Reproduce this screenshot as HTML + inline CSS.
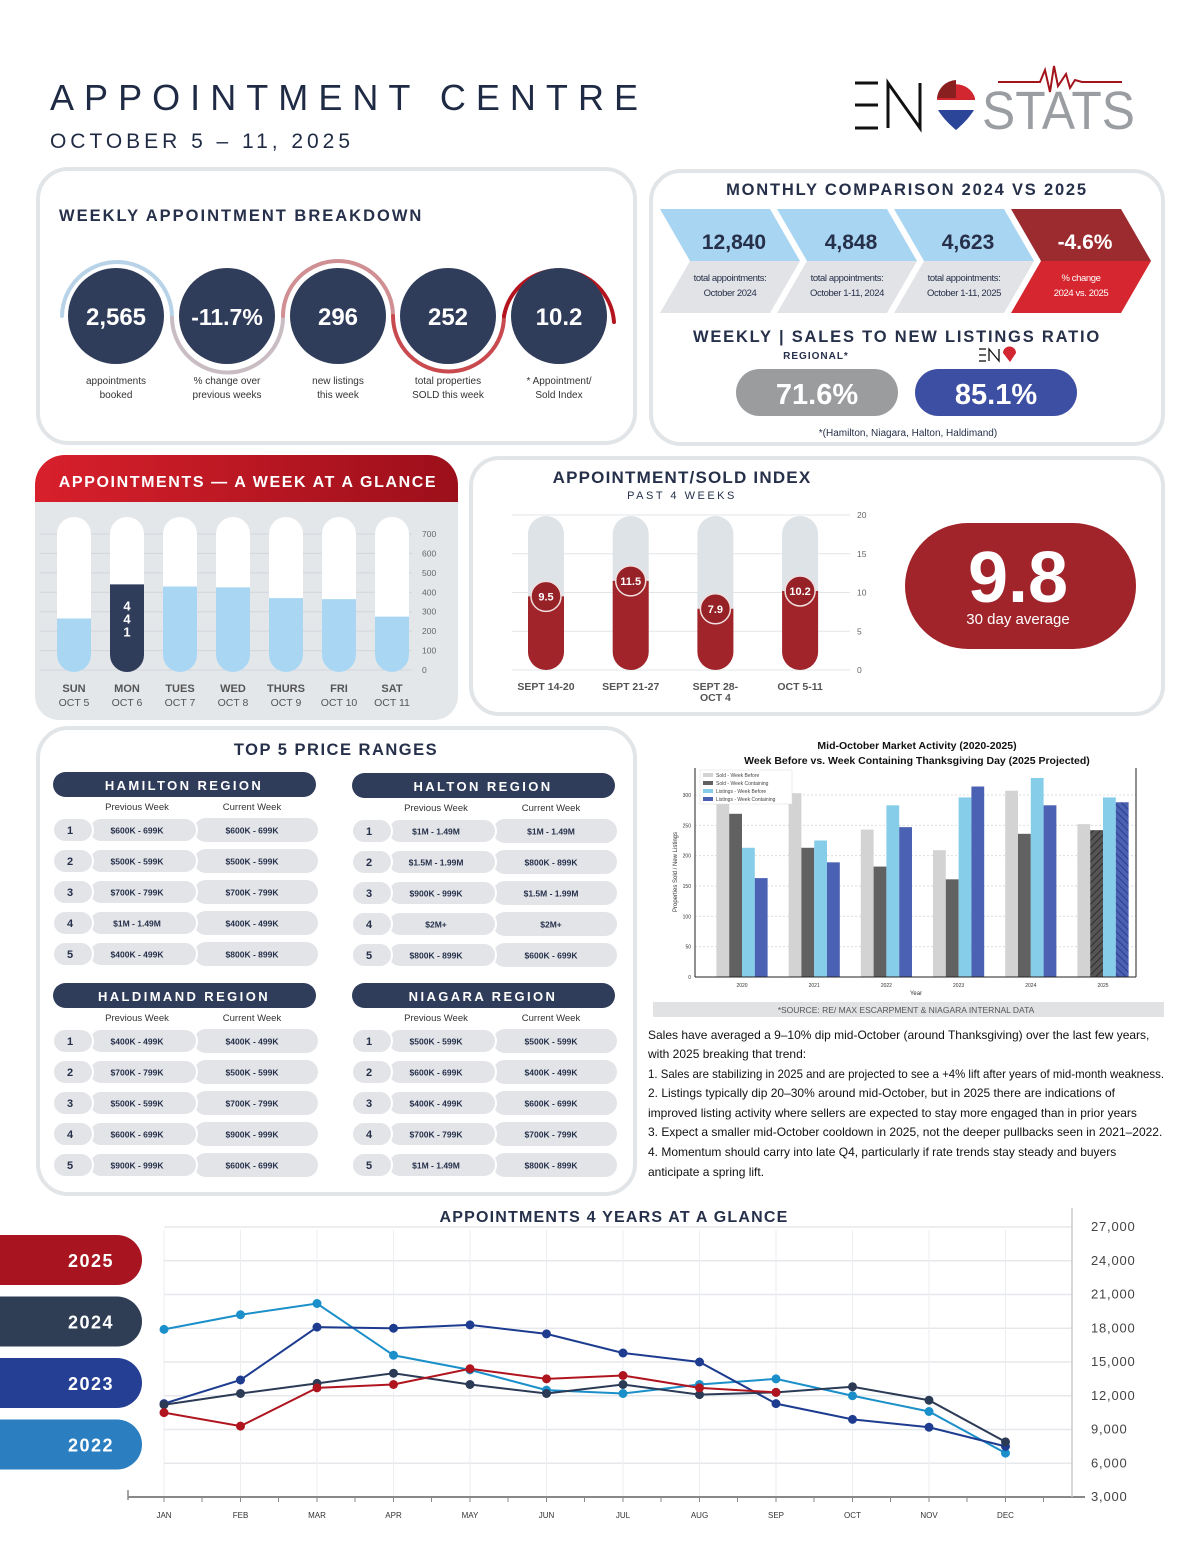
<!DOCTYPE html>
<html><head><meta charset="utf-8">
<style>
html,body{margin:0;padding:0;background:#fff;}
svg{display:block;font-family:"Liberation Sans",sans-serif;}
.navy{fill:#26304a}
</style></head>
<body>
<svg id="root" width="1200" height="1553" viewBox="0 0 1200 1553" xmlns="http://www.w3.org/2000/svg">
<defs>
<linearGradient id="redhead" x1="0" x2="1"><stop offset="0" stop-color="#d8202c"/><stop offset="1" stop-color="#9c0f1a"/></linearGradient>
<pattern id="hatchD" width="5" height="5" patternUnits="userSpaceOnUse" patternTransform="rotate(45)"><rect width="5" height="5" fill="#555"/><line x1="0" y1="0" x2="0" y2="5" stroke="#222" stroke-width="1.5"/></pattern>
<pattern id="hatchB" width="5" height="5" patternUnits="userSpaceOnUse" patternTransform="rotate(-45)"><rect width="5" height="5" fill="#4a61b4"/><line x1="0" y1="0" x2="0" y2="5" stroke="#23347a" stroke-width="1.5"/></pattern>
</defs>

<!-- Header -->
<g>
<text x="50" y="110" font-size="36" fill="#1f2a44" textLength="588" lengthAdjust="spacing">APPOINTMENT CENTRE</text>
<text x="50" y="148" font-size="21" fill="#1f2a44" textLength="300" lengthAdjust="spacing">OCTOBER 5 – 11, 2025</text>
</g>
<g>
<g stroke="#111" stroke-width="3" fill="none"><line x1="855" y1="83" x2="878" y2="83"/><line x1="855" y1="105" x2="878" y2="105"/><line x1="855" y1="128" x2="878" y2="128"/><polyline points="888,128 888,83 920,128 920,83"/></g>
<path d="M937 100 A20 20 0 0 1 975 100 Q970 115 956 130 Q942 115 937 100Z" fill="#fff"/>
<path d="M937 98 A20 20 0 0 1 975 98 L975 100 L937 100Z" fill="#d22630"/>
<path d="M938 110 L974 110 Q968 120 956 130 Q944 120 938 110Z" fill="#2b4599"/>
<path d="M937 98 A20 20 0 0 1 956 80 L956 98Z" fill="#8a1f1f"/>
<text x="982" y="129" font-size="54" fill="#9a9ea3" textLength="153" lengthAdjust="spacingAndGlyphs">STATS</text>
<polyline points="998,82 1040,82 1045,70 1050,92 1054,66 1058,86 1066,74 1070,88 1075,80 1082,82 1122,82" fill="none" stroke="#a3131c" stroke-width="2"/>
</g>

<!-- Panel 1: weekly breakdown -->
<g>
<rect x="38" y="169" width="597" height="274" rx="30" fill="#fff" stroke="#e2e5e8" stroke-width="4"/>
<text x="59" y="221" font-size="16.5" font-weight="bold" fill="#26304a" letter-spacing="2">WEEKLY APPOINTMENT BREAKDOWN</text>
<g fill="none" stroke-width="4" stroke-linecap="round">
<path d="M62 316 A54 54 0 0 1 172 318" stroke="#b8d3e8"/>
<path d="M172 318 A55.5 55.5 0 0 0 283 316" stroke="#c9bcc3"/>
<path d="M283 316 A55 55 0 0 1 393 316" stroke="#d08f92"/>
<path d="M393 316 A55.5 55.5 0 0 0 504 316" stroke="#c94a4e"/>
<path d="M504 316 A55.5 55.5 0 0 1 614 322" stroke="#b3141e"/>
</g>
<g><circle cx="116" cy="316" r="48" fill="#2f3c5a"/><text x="116" y="325" text-anchor="middle" font-size="24" font-weight="bold" fill="#fff">2,565</text><text x="116" y="384" text-anchor="middle" font-size="10" fill="#333">appointments</text><text x="116" y="398" text-anchor="middle" font-size="10" fill="#333">booked</text></g>
<g><circle cx="227" cy="316" r="48" fill="#2f3c5a"/><text x="227" y="325" text-anchor="middle" font-size="23" font-weight="bold" fill="#fff">-11.7%</text><text x="227" y="384" text-anchor="middle" font-size="10" fill="#333">% change over</text><text x="227" y="398" text-anchor="middle" font-size="10" fill="#333">previous weeks</text></g>
<g><circle cx="338" cy="316" r="48" fill="#2f3c5a"/><text x="338" y="325" text-anchor="middle" font-size="24" font-weight="bold" fill="#fff">296</text><text x="338" y="384" text-anchor="middle" font-size="10" fill="#333">new listings</text><text x="338" y="398" text-anchor="middle" font-size="10" fill="#333">this week</text></g>
<g><circle cx="448" cy="316" r="48" fill="#2f3c5a"/><text x="448" y="325" text-anchor="middle" font-size="24" font-weight="bold" fill="#fff">252</text><text x="448" y="384" text-anchor="middle" font-size="10" fill="#333">total properties</text><text x="448" y="398" text-anchor="middle" font-size="10" fill="#333">SOLD this week</text></g>
<g><circle cx="559" cy="316" r="48" fill="#2f3c5a"/><text x="559" y="325" text-anchor="middle" font-size="24" font-weight="bold" fill="#fff">10.2</text><text x="559" y="384" text-anchor="middle" font-size="10" fill="#333">* Appointment/</text><text x="559" y="398" text-anchor="middle" font-size="10" fill="#333">Sold Index</text></g>
</g>

<!-- Panel 2: monthly comparison -->
<g>
<rect x="651" y="171" width="512" height="273" rx="30" fill="#fff" stroke="#e2e5e8" stroke-width="4"/>
<text x="907" y="195" text-anchor="middle" font-size="16.5" font-weight="bold" fill="#26304a" letter-spacing="1.8">MONTHLY COMPARISON 2024 VS 2025</text>
<g id="chevrons"></g>
<text x="897" y="342" text-anchor="middle" font-size="16.5" font-weight="bold" fill="#26304a" letter-spacing="1.8">WEEKLY | SALES TO NEW LISTINGS RATIO</text>
<text x="816" y="359" text-anchor="middle" font-size="10" font-weight="bold" fill="#26304a" letter-spacing="1">REGIONAL*</text>
<g stroke="#111" stroke-width="1.3" fill="none"><line x1="979" y1="349" x2="986" y2="349"/><line x1="979" y1="355" x2="986" y2="355"/><line x1="979" y1="361" x2="986" y2="361"/><polyline points="989,361 989,349 999,361 999,349"/><path d="M1003 353 A6 6 0 0 1 1016 353 L1010 362Z" fill="#d22630" stroke="none"/></g>
<g><rect x="736" y="369" width="162" height="47" rx="23.5" fill="#9b9c9e"/><text x="817" y="404" text-anchor="middle" font-size="29" font-weight="bold" fill="#fff">71.6%</text></g>
<g><rect x="915" y="369" width="162" height="47" rx="23.5" fill="#3c4fa3"/><text x="996" y="404" text-anchor="middle" font-size="29" font-weight="bold" fill="#fff">85.1%</text></g>
<text x="908" y="436" text-anchor="middle" font-size="10" fill="#26304a">*(Hamilton, Niagara, Halton, Haldimand)</text>
</g>

<!-- Panel 3: week at a glance -->
<g>
<path d="M35 485 A30 30 0 0 1 65 455 L428 455 A30 30 0 0 1 458 485 L458 696 A24 24 0 0 1 434 720 L59 720 A24 24 0 0 1 35 696Z" fill="#e4e7ea"/>
<path d="M35 485 A30 30 0 0 1 65 455 L428 455 A30 30 0 0 1 458 485 L458 502 L35 502Z" fill="url(#redhead)"/>
<text x="248" y="487" text-anchor="middle" font-size="16" font-weight="bold" fill="#fff" letter-spacing="1.6">APPOINTMENTS — A WEEK AT A GLANCE</text>
<g id="weekChart"></g>
</g>

<!-- Panel 4: sold index -->
<g>
<rect x="471" y="458" width="692" height="256" rx="28" fill="#fff" stroke="#e2e5e8" stroke-width="4"/>
<text x="682" y="483" text-anchor="middle" font-size="17" font-weight="bold" fill="#26304a" letter-spacing="1.2">APPOINTMENT/SOLD INDEX</text>
<text x="682" y="499" text-anchor="middle" font-size="11" fill="#26304a" letter-spacing="2.5">PAST 4 WEEKS</text>
<g id="indexChart"></g>
<g><rect x="905" y="523" width="231" height="126" rx="63" fill="#a0242a"/><text x="1018" y="602" text-anchor="middle" font-size="72" font-weight="bold" fill="#fff">9.8</text><text x="1018" y="624" text-anchor="middle" font-size="15" fill="#fff">30 day average</text></g>
</g>

<!-- Panel 5: price ranges -->
<g>
<rect x="38" y="728" width="597" height="466" rx="30" fill="#fff" stroke="#e2e5e8" stroke-width="4"/>
<text x="336" y="755" text-anchor="middle" font-size="16.5" font-weight="bold" fill="#26304a" letter-spacing="1.5">TOP 5 PRICE RANGES</text>
<g id="priceTables"></g>
</g>

<!-- Bar chart -->
<g>
<text x="917" y="749" text-anchor="middle" font-size="10.5" font-weight="bold" fill="#111">Mid-October Market Activity (2020-2025)</text>
<text x="917" y="764" text-anchor="middle" font-size="10.5" font-weight="bold" fill="#111">Week Before vs. Week Containing Thanksgiving Day (2025 Projected)</text>
<g id="barChart"></g>
<rect x="653" y="1002" width="511" height="15" fill="#e0e2e4"/>
<text x="906" y="1013" text-anchor="middle" font-size="8.5" fill="#555">*SOURCE:  RE/ MAX ESCARPMENT &amp; NIAGARA INTERNAL DATA</text>
</g>

<!-- Commentary -->
<g font-size="12" fill="#111">
<text x="648" y="1039">Sales have averaged a 9–10% dip mid-October (around Thanksgiving) over the last few years,</text>
<text x="648" y="1058">with 2025 breaking that trend:</text>
<text x="648" y="1078" textLength="516" lengthAdjust="spacingAndGlyphs">1. Sales are stabilizing in 2025 and are projected to see a +4% lift after years of mid-month weakness.</text>
<text x="648" y="1097">2. Listings typically dip 20–30% around mid-October, but in 2025 there are indications of</text>
<text x="648" y="1117">improved listing activity where sellers are expected to stay more engaged than in prior years</text>
<text x="648" y="1136">3. Expect a smaller mid-October cooldown in 2025, not the deeper pullbacks seen in 2021–2022.</text>
<text x="648" y="1156">4. Momentum should carry into late Q4, particularly if rate trends stay steady and buyers</text>
<text x="648" y="1176">anticipate a spring lift.</text>
</g>

<!-- Line chart -->
<g>
<text x="614" y="1222" text-anchor="middle" font-size="16" font-weight="bold" fill="#26304a" letter-spacing="1.2">APPOINTMENTS 4 YEARS AT A GLANCE</text>
<g id="lineChart"></g>
<g id="lineLegend"></g>
</g>
</svg>

<script>
// ---------- DATA ----------
const compValues = ["12,840","4,848","4,623","-4.6%"];
const compLabels1 = ["total appointments:","total appointments:","total appointments:","% change"];
const compLabels2 = ["October 2024","October 1-11, 2024","October 1-11, 2025","2024 vs. 2025"];

const weekDays = ["SUN","MON","TUES","WED","THURS","FRI","SAT"];
const weekDates = ["OCT 5","OCT 6","OCT 7","OCT 8","OCT 9","OCT 10","OCT 11"];
const weekValues = [265, 441, 430, 425, 370, 365, 275];
const weekTicks = [0,100,200,300,400,500,600,700];

const indexWeeks = ["SEPT 14-20","SEPT 21-27","SEPT 28-|OCT 4","OCT 5-11"];
const indexValues = [9.5, 11.5, 7.9, 10.2];
const indexTicks = [0,5,10,15,20];

const regionNames = ["HAMILTON REGION","HALTON REGION","HALDIMAND REGION","NIAGARA REGION"];
const hamiltonPrev = ["$600K - 699K","$500K - 599K","$700K - 799K","$1M - 1.49M","$400K - 499K"];
const hamiltonCurr = ["$600K - 699K","$500K - 599K","$700K - 799K","$400K - 499K","$800K - 899K"];
const haltonPrev = ["$1M - 1.49M","$1.5M - 1.99M","$900K - 999K","$2M+","$800K - 899K"];
const haltonCurr = ["$1M - 1.49M","$800K - 899K","$1.5M - 1.99M","$2M+","$600K - 699K"];
const haldimandPrev = ["$400K - 499K","$700K - 799K","$500K - 599K","$600K - 699K","$900K - 999K"];
const haldimandCurr = ["$400K - 499K","$500K - 599K","$700K - 799K","$900K - 999K","$600K - 699K"];
const niagaraPrev = ["$500K - 599K","$600K - 699K","$400K - 499K","$700K - 799K","$1M - 1.49M"];
const niagaraCurr = ["$500K - 599K","$400K - 499K","$600K - 699K","$700K - 799K","$800K - 899K"];

const barYears = ["2020","2021","2022","2023","2024","2025"];
const soldBefore = [300, 303, 243, 209, 307, 252];
const soldContaining = [269, 213, 182, 161, 236, 242];
const listingsBefore = [213, 225, 283, 296, 328, 296];
const listingsContaining = [163, 189, 247, 314, 283, 288];
const barSeriesNames = ["Sold - Week Before","Sold - Week Containing","Listings - Week Before","Listings - Week Containing"];
const barTicks = [0,50,100,150,200,250,300];

const months = ["JAN","FEB","MAR","APR","MAY","JUN","JUL","AUG","SEP","OCT","NOV","DEC"];
const lineYears = ["2025","2024","2023","2022"];
const appt2022 = [17900,19200,20200,15600,14300,12500,12200,13000,13500,12000,10600,6900];
const appt2023 = [11300,13400,18100,18000,18300,17500,15800,15000,11300,9900,9200,7500];
const appt2024 = [11200,12200,13100,14000,13000,12200,13000,12100,12300,12800,11600,7900];
const appt2025 = [10500,9300,12700,13000,14400,13500,13800,12700,12300];
const lineTicks = [3000,6000,9000,12000,15000,18000,21000,24000,27000];

// ---------- helpers ----------
const NS = "http://www.w3.org/2000/svg";
function el(tag, parent, attrs){ const e=document.createElementNS(NS,tag); for(const k in attrs) e.setAttribute(k,attrs[k]); parent.appendChild(e); return e; }
function txt(parent, x, y, s, attrs){ const t=el("text",parent,Object.assign({x:x,y:y},attrs)); t.textContent=s; return t; }

// ---------- chevrons ----------
(function(){
  const g=document.getElementById("chevrons");
  const x0s=[660,777,894,1011], w=110, d=30, t=209, m=261, b=313;
  for(let i=0;i<4;i++){
    const x0=x0s[i], x1=x0+w;
    const red=i===3;
    const grp=el("g",g,{});
    
    
    el("polygon",grp,{points:`${x0},${t} ${x1},${t} ${x1+d},${m} ${x0+d},${m}`,fill:red?"#9b2b2e":"#a8d5f2"});
    el("polygon",grp,{points:`${x0+d},${m} ${x1+d},${m} ${x1},${b} ${x0},${b}`,fill:red?"#d6262f":"#e1e3e6"});
    const cx=x0+d/2+w/2;
    txt(grp,cx+4,249,compValues[i],{"text-anchor":"middle","font-size":"21","font-weight":"bold",fill:red?"#fff":"#26304a"});
    txt(grp,cx,281,compLabels1[i],{"text-anchor":"middle","font-size":"9.5",fill:red?"#fff":"#26304a","letter-spacing":"-0.4"});
    txt(grp,cx,296,compLabels2[i],{"text-anchor":"middle","font-size":"9.5",fill:red?"#fff":"#26304a","letter-spacing":"-0.4"});
  }
})();

// ---------- week chart ----------
(function(){
  const g=document.getElementById("weekChart");
  const y0=670, yTop=534, vmax=700;
  const ys=v=>y0-(v/vmax)*(y0-yTop);
  const xs=i=>74+i*53;
  const bw=34, top=517;
  weekTicks.forEach(t=>{
    const ln=el("line",g,{x1:40,x2:412,y1:ys(t),y2:ys(t),stroke:"#d2d6da","stroke-width":1});
    
    
    const lb=txt(g,422,ys(t)+3,String(t),{"font-size":"8.5",fill:"#666"});
    
    
  });
  weekValues.forEach((v,i)=>{
    const cx=xs(i), x=cx-bw/2;
    const bg=el("rect",g,{x:x,y:top,width:bw,height:y0+2-top,rx:17,fill:"#fff"});
    
    
    const hi=i===1;
    const yt=ys(v);
    const p=el("path",g,{d:`M${x} ${yt} L${x+bw} ${yt} L${x+bw} ${y0+2-17} A17 17 0 0 1 ${x} ${y0+2-17} Z`,fill:hi?"#2f3c5a":"#a9d6f2"});
    
    
    if(hi){
      String(v).split("").forEach((c,k)=>{
        const tt=txt(g,cx,yt+26+k*13,c,{"text-anchor":"middle","font-size":"13","font-weight":"bold",fill:"#fff"});
        
        
      });
    }
    const d1=txt(g,cx,692,weekDays[i],{"text-anchor":"middle","font-size":"11","font-weight":"bold",fill:"#555"});
    
    
    const d2=txt(g,cx,706,weekDates[i],{"text-anchor":"middle","font-size":"10.5",fill:"#555"});
    
    
  });
})();

// ---------- index chart ----------
(function(){
  const g=document.getElementById("indexChart");
  const y0=670, yTop=515, vmax=20;
  const ys=v=>y0-(v/vmax)*(y0-yTop);
  const xs=i=>546+i*84.7;
  const bw=36;
  indexTicks.forEach(t=>{
    const ln=el("line",g,{x1:512,x2:850,y1:ys(t),y2:ys(t),stroke:"#e2e5e8","stroke-width":1});
    
    
    const lb=txt(g,857,ys(t)+3,String(t),{"font-size":"8.5",fill:"#666"});
    
    
  });
  indexValues.forEach((v,i)=>{
    const cx=xs(i), x=cx-bw/2;
    const tr=el("rect",g,{x:x,y:516,width:bw,height:y0-516,rx:18,fill:"#dde3e6"});
    
    
    const yt=ys(v);
    const p=el("path",g,{d:`M${x} ${yt} L${x+bw} ${yt} L${x+bw} ${y0-18} A18 18 0 0 1 ${x} ${y0-18} Z`,fill:"#a0242a"});
    
    
    const c=el("circle",g,{cx:cx,cy:yt,r:15,fill:"#962126",stroke:"#f1dede","stroke-width":1.5});
    
    
    const vt=txt(g,cx,yt+4,String(v),{"text-anchor":"middle","font-size":"11","font-weight":"bold",fill:"#fff"});
    
    
    indexWeeks[i].split("|").forEach((s,k)=>{
      const lt=txt(g,cx,690+k*11,s,{"text-anchor":"middle","font-size":"10.5","font-weight":"bold",fill:"#555"});
      
      
    });
  });
})();

// ---------- price tables ----------
(function(){
  const g=document.getElementById("priceTables");
  const tables=[[53,772,hamiltonPrev,hamiltonCurr],[352,773,haltonPrev,haltonCurr],[53,983,haldimandPrev,haldimandCurr],[352,983,niagaraPrev,niagaraCurr]];
  tables.forEach((tb,ti)=>{
    const [x,y,prev,curr]=tb;
    const tg=el("g",g,{});
    
    
    el("rect",tg,{x:x,y:y,width:263,height:25,rx:12.5,fill:"#2f3c5a"});
    txt(tg,x+131,y+18,regionNames[ti],{"text-anchor":"middle","font-size":"13","font-weight":"bold",fill:"#fff","letter-spacing":"2.4"});
    txt(tg,x+84,y+38,"Previous Week",{"text-anchor":"middle","font-size":"9.5",fill:"#333"});
    txt(tg,x+199,y+38,"Current Week",{"text-anchor":"middle","font-size":"9.5",fill:"#333"});
    for(let r=0;r<5;r++){
      const ry=y+46+r*31;
      const rg=el("g",tg,{});
      
      
      el("rect",rg,{x:x+141,y:ry,width:124,height:24,rx:12,fill:"#e2e4e8"});
      el("rect",rg,{x:x+36,y:ry,width:108,height:24,rx:12,fill:"#e2e4e8",stroke:"#fff","stroke-width":2});
      el("rect",rg,{x:x,y:ry,width:40,height:24,rx:12,fill:"#e2e4e8",stroke:"#fff","stroke-width":2});
      txt(rg,x+17,ry+16,String(r+1),{"text-anchor":"middle","font-size":"11","font-weight":"bold",fill:"#26304a"});
      txt(rg,x+84,ry+15.5,prev[r],{"text-anchor":"middle","font-size":"8.5","font-weight":"bold",fill:"#26304a"});
      txt(rg,x+199,ry+15.5,curr[r],{"text-anchor":"middle","font-size":"8.5","font-weight":"bold",fill:"#26304a"});
    }
  });
})();

// ---------- bar chart ----------
(function(){
  const g=document.getElementById("barChart");
  const y0=977, pxPer=0.6067;
  const ys=v=>y0-v*pxPer;
  const gx=i=>742+i*72.2;
  const bw=12.8;
  const left=695, right=1136, top=768;
  el("rect",g,{x:left,y:top,width:right-left,height:y0-top,fill:"#fff"});
  barTicks.forEach(t=>{
    const ln=el("line",g,{x1:left,x2:right,y1:ys(t),y2:ys(t),stroke:"#ddd","stroke-dasharray":"2,2"});
    
    
    const lb=txt(g,691,ys(t)+2,String(t),{"text-anchor":"end","font-size":"5",fill:"#333"});
    
    
  });
  const series=[soldBefore,soldContaining,listingsBefore,listingsContaining];
  const cols=["#d3d3d3","#616161","#86cdea","#4a61b4"];
  barYears.forEach((yr,i)=>{
    series.forEach((s,k)=>{
      const x=gx(i)-2*bw+k*bw;
      let fill=cols[k];
      if(i===5&&k===1) fill="url(#hatchD)";
      if(i===5&&k===3) fill="url(#hatchB)";
      const r=el("rect",g,{x:x,y:ys(s[i]),width:bw,height:s[i]*pxPer,fill:fill});
      
      
    });
    const lb=txt(g,gx(i),987,yr,{"text-anchor":"middle","font-size":"5",fill:"#333"});
    
    
  });
  el("line",g,{x1:left,x2:right,y1:y0,y2:y0,stroke:"#222","stroke-width":1});
  el("line",g,{x1:left,x2:left,y1:top,y2:y0,stroke:"#222","stroke-width":1});
  el("line",g,{x1:right,x2:right,y1:top,y2:y0,stroke:"#222","stroke-width":1});
  const xt=txt(g,916,995,"Year",{"text-anchor":"middle","font-size":"6",fill:"#333"});
  
  
  const yt=txt(g,0,0,"Properties Sold / New Listings",{"text-anchor":"middle","font-size":"6",fill:"#333",transform:"translate(677,872) rotate(-90)"});
  
  
  const lg=el("g",g,{});
  
  
  el("rect",lg,{x:700,y:770,width:92,height:34,fill:"#fff",stroke:"#ddd","stroke-width":0.5});
  barSeriesNames.forEach((n,k)=>{
    el("rect",lg,{x:703,y:773+k*8,width:10,height:4,fill:cols[k]});
    txt(lg,716,777+k*8,n,{"font-size":"5",fill:"#444"});
  });
})();

// ---------- line chart ----------
(function(){
  const g=document.getElementById("lineChart");
  const xs=i=>164+i*76.5;
  const ys=v=>1497-(v-3000)*33.75/3000;
  lineTicks.forEach(t=>{
    if(t>3000){
      const ln=el("line",g,{x1:164,x2:1072,y1:ys(t),y2:ys(t),stroke:"#e6e8eb","stroke-width":1.5});
      
      
    }
    const lb=txt(g,1091,ys(t)+4,t.toLocaleString("en-US"),{"font-size":"13",fill:"#444","letter-spacing":"0.8"});
    
    
  });
  months.forEach((m,i)=>{
    const vl=el("line",g,{x1:xs(i),x2:xs(i),y1:1230,y2:1497,stroke:"#eceef0","stroke-width":1});
    
    
    const lb=txt(g,xs(i),1518,m,{"text-anchor":"middle","font-size":"8",fill:"#333"});
    
    
    el("line",g,{x1:xs(i),x2:xs(i),y1:1497,y2:1502,stroke:"#888"});
    el("line",g,{x1:xs(i)+38,x2:xs(i)+38,y1:1497,y2:1502,stroke:"#888"});
  });
  el("line",g,{x1:128,x2:1085,y1:1497,y2:1497,stroke:"#888","stroke-width":2});
  el("line",g,{x1:128,x2:128,y1:1490,y2:1500,stroke:"#888","stroke-width":1.5});
  el("line",g,{x1:1072,x2:1072,y1:1208,y2:1497,stroke:"#ccc","stroke-width":1.5});
  const series=[[appt2022,"#1a8fc9","2022"],[appt2023,"#1d3c8f","2023"],[appt2024,"#2b3a55","2024"],[appt2025,"#b0151f","2025"]];
  series.forEach(([data,col,yr])=>{
    const pts=data.map((v,i)=>xs(i)+","+ys(v)).join(" ");
    const pl=el("polyline",g,{points:pts,fill:"none",stroke:col,"stroke-width":2});
    
    
    data.forEach((v,i)=>{
      const c=el("circle",g,{cx:xs(i),cy:ys(v),r:4.5,fill:col});
      
      
    });
  });
  const lg=document.getElementById("lineLegend");
  const lcols=["#a8141f","#2f3d55","#243f94","#2b7fc1"];
  lineYears.forEach((yr,k)=>{
    const y=1235+k*61.5;
    const e=el("path",lg,{d:`M0 ${y} L117 ${y} A25 25 0 0 1 117 ${y+50} L0 ${y+50}Z`,fill:lcols[k]});
    
    
    const t=txt(lg,114,y+32,yr,{"text-anchor":"end","font-size":"18","font-weight":"bold",fill:"#fff","letter-spacing":"1.5"});
    
    
  });
})();
</script>
</body></html>
